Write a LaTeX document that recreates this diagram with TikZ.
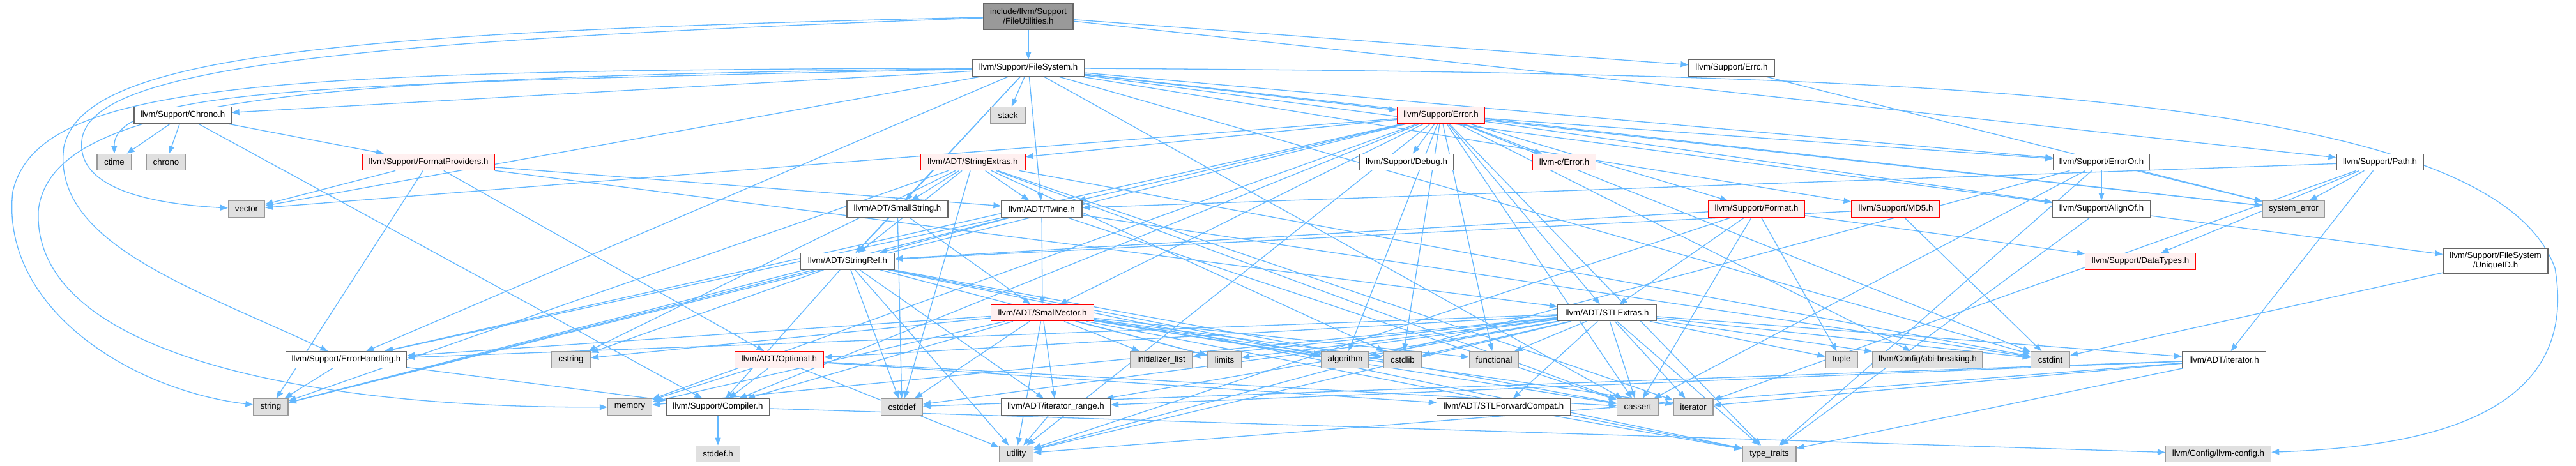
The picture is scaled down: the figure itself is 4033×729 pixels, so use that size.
\documentclass[tikz,border=0pt]{standalone}
\usepackage{fontspec}
\setmainfont{Liberation Sans}
\usetikzlibrary{arrows.meta,backgrounds}
\definecolor{eLine}{RGB}{99,184,255}
\definecolor{nLine}{RGB}{102,102,102}
\definecolor{sFill}{RGB}{224,224,224}
\definecolor{sLine}{RGB}{153,153,153}
\definecolor{tFill}{RGB}{255,240,240}
\definecolor{tLine}{RGB}{255,0,0}
\definecolor{rFill}{RGB}{153,153,153}
\newcommand{\hfont}{\fontsize{13.3}{15}\selectfont}
\tikzset{
  hdr/.style={rectangle, draw=nLine, fill=white, line width=1.3pt,
              minimum height=25.5pt, inner sep=0pt, align=center, font=\hfont},
  sys/.style={hdr, draw=sLine, fill=sFill},
  cut/.style={hdr, draw=tLine, fill=tFill},
  main/.style={hdr, fill=rFill, minimum height=41pt},
  dep/.style={-{Triangle[length=12pt,width=9pt]}, draw=eLine, line width=1.3pt},
}
\newcommand{\File}[5][hdr]{% [style]{name}{at}{width}{label}
  \node[#1, minimum width=#4pt] (#2) at #3 {#5};}
\newcommand{\Inc}[2]{% {from}{targets}
  \foreach \dst in {#2} \draw[dep] (#1) -- (\dst);}
\begin{document}
\begin{tikzpicture}[x=1pt, y=-1pt]
  \useasboundingbox (0,0) rectangle (4033,729);
  % root and first level
  \File[main]{root}{(1610,25.5)}{140}{include/llvm/Support\\/FileUtilities.h}
  \File{fsys}{(1610,106.5)}{175}{llvm/Support/FileSystem.h}
  \File{errc}{(2711,106.5)}{134}{llvm/Support/Errc.h}
  \File{chr}{(286,180.5)}{152}{llvm/Support/Chrono.h}
  \File[sys]{stk}{(1578,180.5)}{54}{stack}
  \File[cut]{err}{(2256,180.5)}{137}{llvm/Support/Error.h}
  \File[sys]{ctm}{(179,254)}{54}{ctime}
  \File[sys]{chs}{(260,254)}{61}{chrono}
  \File[cut]{fmp}{(671,254)}{206}{llvm/Support/FormatProviders.h}
  \File[cut]{sxt}{(1523,254)}{164}{llvm/ADT/StringExtras.h}
  \File{dbg}{(2202,254)}{148}{llvm/Support/Debug.h}
  \File[cut]{cer}{(2449,254)}{99}{llvm-c/Error.h}
  \File{eor}{(3290,254)}{150}{llvm/Support/ErrorOr.h}
  \File{pth}{(3726,254)}{136}{llvm/Support/Path.h}
  \File[sys]{vec}{(386,327.5)}{57}{vector}
  \File{sst}{(1405,327.5)}{158}{llvm/ADT/SmallString.h}
  \File{twn}{(1631,327.5)}{126}{llvm/ADT/Twine.h}
  \File[cut]{fmt}{(2750,327.5)}{151}{llvm/Support/Format.h}
  \File[cut]{md5}{(2968,327.5)}{138}{llvm/Support/MD5.h}
  \File{aln}{(3290,327.5)}{153}{llvm/Support/AlignOf.h}
  \File[sys]{sye}{(3591,327.5)}{97}{system\_error}
  \File{srf}{(1327,409.5)}{147}{llvm/ADT/StringRef.h}
  \File[cut]{dty}{(3351,409.5)}{173}{llvm/Support/DataTypes.h}
  \File[hdr,minimum height=40pt]{uid}{(3907,409)}{164}{llvm/Support/FileSystem\\/UniqueID.h}
  \File[cut]{svr}{(1632,490)}{161}{llvm/ADT/SmallVector.h}
  \File{stl}{(2516,490)}{155}{llvm/ADT/STLExtras.h}
  % leaves and low level headers
  \File{ehd}{(542,563.5)}{189}{llvm/Support/ErrorHandling.h}
  \File[sys]{csg}{(894,563.5)}{61}{cstring}
  \File[cut]{opt}{(1220,563.5)}{139}{llvm/ADT/Optional.h}
  \File[sys]{ini}{(1818,563.5)}{97}{initializer\_list}
  \File[sys]{lim}{(1917,563.5)}{53}{limits}
  \File[sys]{alg}{(2106,563.5)}{74}{algorithm}
  \File[sys]{csl}{(2196,563.5)}{60}{cstdlib}
  \File[sys]{fun}{(2339,563.5)}{77}{functional}
  \File[sys]{tup}{(2883,563.5)}{50}{tuple}
  \File[sys]{abi}{(3018,563.5)}{172}{llvm/Config/abi-breaking.h}
  \File[sys]{cin}{(3210,563.5)}{61}{cstdint}
  \File{ait}{(3482,563.5)}{131}{llvm/ADT/iterator.h}
  \File[sys]{str}{(424,637.5)}{54}{string}
  \File[sys]{mem}{(986,637.5)}{69}{memory}
  \File{cmp}{(1124,637.5)}{161}{llvm/Support/Compiler.h}
  \File[sys]{csd}{(1412,637.5)}{65}{cstddef}
  \File{irg}{(1653,637.5)}{171}{llvm/ADT/iterator\_range.h}
  \File{sfc}{(2354,637.5)}{209}{llvm/ADT/STLForwardCompat.h}
  \File[sys]{cas}{(2564,637.5)}{65}{cassert}
  \File[sys]{itr}{(2651,637.5)}{62}{iterator}
  \File[sys]{sdh}{(1124,711)}{69}{stddef.h}
  \File[sys]{utl}{(1591,711)}{53}{utility}
  \File[sys]{tty}{(2770,711)}{84}{type\_traits}
  \File[sys]{cfg}{(3473,711)}{165}{llvm/Config/llvm-config.h}
  % include edges
  \begin{scope}[on background layer]
    \fill[white] (0,0) rectangle (4033,729);
    % long ones routed round the outside
    \draw[dep] (root) .. controls (500,50) and (130,90) .. (100,230)
                      .. controls (80,380) and (300,450) .. (ehd);
    \draw[dep] (root) .. controls (500,65) and (140,110) .. (128,220)
                      .. controls (120,300) and (250,320) .. (vec);
    \draw[dep] (fsys) .. controls (400,110) and (60,130) .. (20,300)
                      .. controls (0,480) and (200,610) .. (str);
    \draw[dep] (fsys) .. controls (500,120) and (80,150) .. (60,330)
                      .. controls (50,560) and (500,640) .. (mem);
    \draw[dep] (fsys) .. controls (500,130) and (178,140) .. (ctm);
    \draw[dep] (fsys) .. controls (3000,115) and (3900,140) .. (4000,420)
                      .. controls (4040,650) and (3800,700) .. (cfg);
    \Inc{root}{fsys,errc,pth}
    \Inc{fsys}{sst,srf,twn,chr,err,ehd,eor,uid,md5,cas,cin,stk,sye,vec}
    \Inc{errc}{sye}
    \Inc{chr}{ctm,chs,fmp,cmp}
    \Inc{fmp}{vec,str,opt,twn,stl}
    \Inc{sxt}{sst,twn,srf,str,csg,csd,cin,csl,itr,cas}
    \Inc{err}{cer,stl,svr,sxt,twn,abi,aln,cmp,dbg,ehd,eor,fmt,alg,cas,cin,csl,fun,mem,str,sye,tty,utl,vec}
    \Inc{eor}{aln,cas,sye,tty,utl}
    \Inc{pth}{twn,ait,dty,itr,sye}
    \Inc{fmt}{dty,tup,stl,srf,cas,utl}
    \Inc{md5}{srf,cin}
    \Inc{aln}{tty}
    \Inc{uid}{cin}
    \Inc{twn}{svr,srf,ehd,cas,cin,str}
    \Inc{sst}{svr,srf,csd}
    \Inc{srf}{irg,cmp,alg,cas,csd,csg,lim,str,tty,utl}
    \Inc{svr}{irg,cmp,ehd,alg,cas,csd,csl,csg,fun,ini,itr,lim,mem,tty,utl}
    \Inc{stl}{opt,sfc,ait,irg,abi,ehd,alg,cas,csd,cin,csl,fun,ini,itr,lim,mem,tup,tty,utl}
    \Inc{opt}{cmp,mem,utl,sfc,cas}
    \Inc{ehd}{cmp,str}
    \Inc{cmp}{cfg,sdh}
    \Inc{irg}{utl}
    \Inc{ait}{irg,csd,itr,tty,utl}
    \Inc{sfc}{tty}
  \end{scope}
\end{tikzpicture}
\end{document}
